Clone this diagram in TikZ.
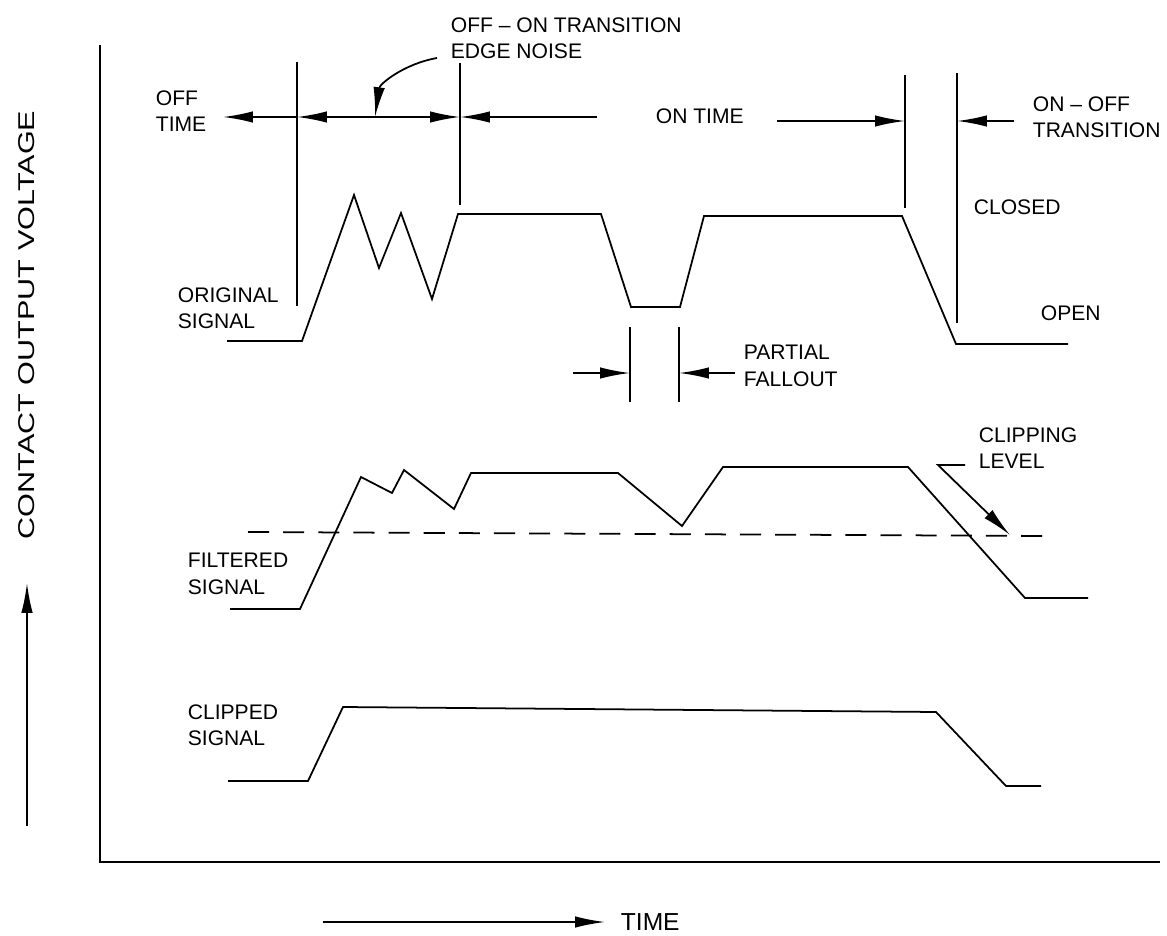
\documentclass[tikz,border=0pt]{standalone}
\usepackage{fontspec}
\setmainfont{Liberation Sans}
\usetikzlibrary{arrows.meta}

\begin{document}
\begin{tikzpicture}[x=0.02cm, y=-0.02cm, line width=1pt,
    >={Latex[length=17pt, width=6.5pt]},
    lbl/.style={font=\fontsize{12}{15}\selectfont, align=left, anchor=west, inner sep=0pt}]

    \useasboundingbox (0,0) rectangle (1167,936);

    % Draw axes
    \draw (100,45) -- (100,862) -- (1160,862);
    \draw[->] (27,826) -- (27,583);
    \node[rotate=90, inner sep=0pt, font=\fontsize{13}{15}\selectfont] (volt) at (27,325)
        {\scalebox{1.34}[1]{CONTACT OUTPUT VOLTAGE}};
    \draw[->] (323,922) -- (605,922);
    \node[lbl, font=\fontsize{14}{16}\selectfont] (time) at (620,922) {TIME};

    % Transition markers
    \draw (297,62) -- (297,306);
    \draw (460,63) -- (460,205);
    \draw (905,75) -- (905,208);
    \draw (957,73) -- (957,323);

    % Time spans
    \draw[->] (297,117) -- (223,117);
    \draw[<->] (297,117) -- (460,117);
    \draw[<-] (460,117) -- (597,117);
    \draw[->] (777,121) -- (905,121);
    \draw[<-] (957,121) -- (1014,121);
    \draw[->] (437,58) to[out=190, in=82] (375,117);

    \node[lbl] (offtime) at (155,111) {OFF\\TIME};
    \node[lbl] (edgenoise) at (450,38) {OFF\;--\;ON TRANSITION\\EDGE NOISE};
    \node[lbl] (ontime) at (655,116) {ON TIME};
    \node[lbl] (onoff) at (1032,117) {ON\;--\;OFF\\TRANSITION};
    \node[lbl] (closed) at (973,207) {CLOSED};
    \node[lbl] (open) at (1040,313) {OPEN};

    % Original signal
    \draw (227,341) -- (302,341) -- (354,195) -- (379,268) -- (401,213) -- (432,299)
        -- (458,214) -- (601,214) -- (631,307) -- (680,307) -- (704,216) -- (902,216)
        -- (956,344) -- (1068,344);
    \node[lbl] (orig) at (177,308) {ORIGINAL\\SIGNAL};

    % Partial fallout
    \draw (630,327) -- (630,402);
    \draw (679,327) -- (679,402);
    \draw[->] (573,373) -- (630,373);
    \draw[->] (735,373) -- (679,373);
    \node[lbl] (fallout) at (743,366) {PARTIAL\\FALLOUT};

    % Filtered signal and clipping level
    \draw (230,609) -- (300,609) -- (361,477) -- (392,493) -- (404,470) -- (454,509)
        -- (471,473) -- (618,473) -- (682,526) -- (723,467) -- (908,467) -- (1025,598)
        -- (1088,598);
    \draw[dash pattern=on 12pt off 8pt] (248,532) -- (1047,536);
    \draw[->] (965,465) -- (938,465) -- (1010,535);
    \node[lbl] (filt) at (187,574) {FILTERED\\SIGNAL};
    \node[lbl] (cliplvl) at (978,448) {CLIPPING\\LEVEL};

    % Clipped signal
    \draw (228,781) -- (308,781) -- (343,707) -- (936,712) -- (1006,786) -- (1041,786);
    \node[lbl] (clipped) at (187,725) {CLIPPED\\SIGNAL};

\end{tikzpicture}
\end{document}
